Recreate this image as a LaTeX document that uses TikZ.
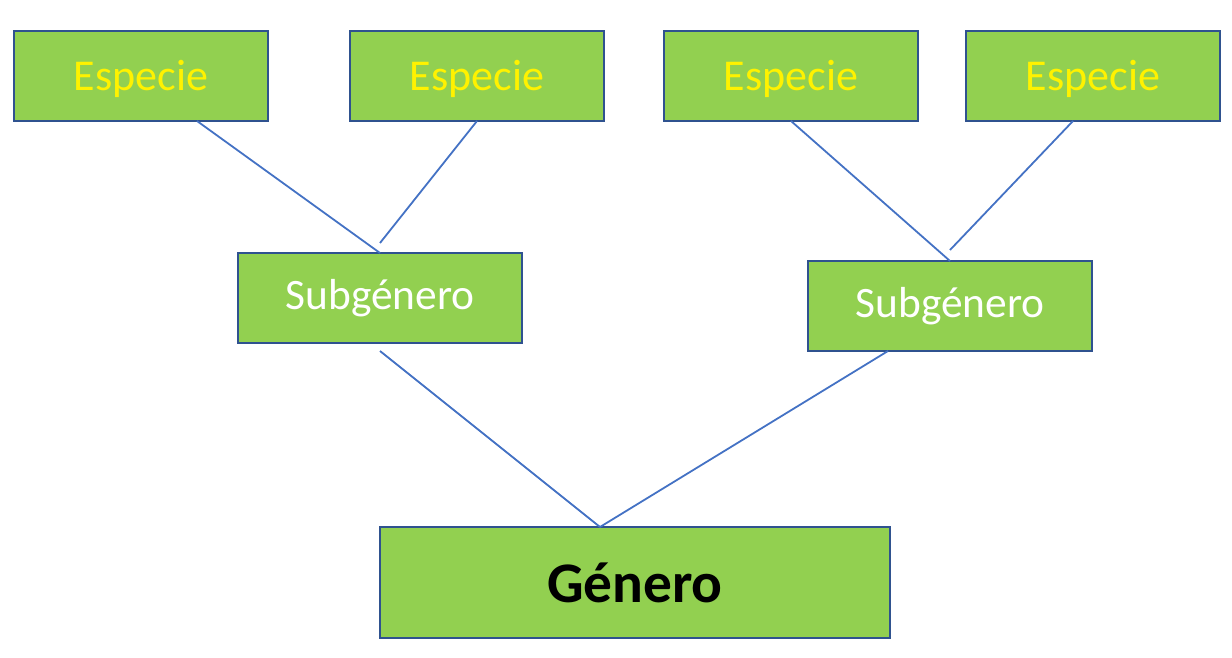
\documentclass[tikz,border=0pt]{standalone}
\usepackage{fontspec}
\setmainfont{Carlito}
\definecolor{boxgreen}{HTML}{92D050}
\definecolor{boxline}{HTML}{2F528F}
\definecolor{linkblue}{HTML}{4472C4}
\newcommand{\lowtext}[1]{\raisebox{-1.5pt}[\height][\depth]{#1}}
\tikzset{
  taxbox/.style={draw=boxline, fill=boxgreen, line width=1pt, inner sep=0pt, outer sep=0pt},
  especie/.style={taxbox, minimum width=127pt, minimum height=45pt, text=yellow, font=\fontsize{22}{26}\selectfont},
  subgenero/.style={taxbox, minimum width=142pt, minimum height=45pt, text=white, font=\fontsize{21.7}{26}\selectfont},
  genero/.style={taxbox, minimum width=255pt, minimum height=55.5pt, text=black, font=\fontsize{28.7}{34}\selectfont\bfseries},
  link/.style={linkblue, line width=0.9pt}
}
\begin{document}
\begin{tikzpicture}[x=0.5pt, y=-0.5pt]

\useasboundingbox (0,0) rectangle (1232,658);

\node[especie] (e1) at (141,76) {\lowtext{Especie}};
\node[especie] (e2) at (477,76) {\lowtext{Especie}};
\node[especie] (e3) at (791,76) {\lowtext{Especie}};
\node[especie] (e4) at (1093,76) {\lowtext{Especie}};

\node[subgenero] (s1) at (380,298) {Subgénero};
\node[subgenero] (s2) at (950,306) {Subgénero};

\node[genero] (g) at (635,582.5) {Género};

\coordinate (j1) at (380,243);
\coordinate (j2) at (950,250);
\coordinate (b1) at (380,351);
\coordinate (gtop) at (600,527);

\draw[link] ([xshift=28pt]e1.south) to (s1.north);
\draw[link] (e2.south) to (j1);
\draw[link] (e3.south) to (s2.north);
\draw[link] ([xshift=-10pt]e4.south) to (j2);

\draw[link] (b1) to (gtop);
\draw[link] ([xshift=-31pt]s2.south) to (gtop);

\end{tikzpicture}
\end{document}
